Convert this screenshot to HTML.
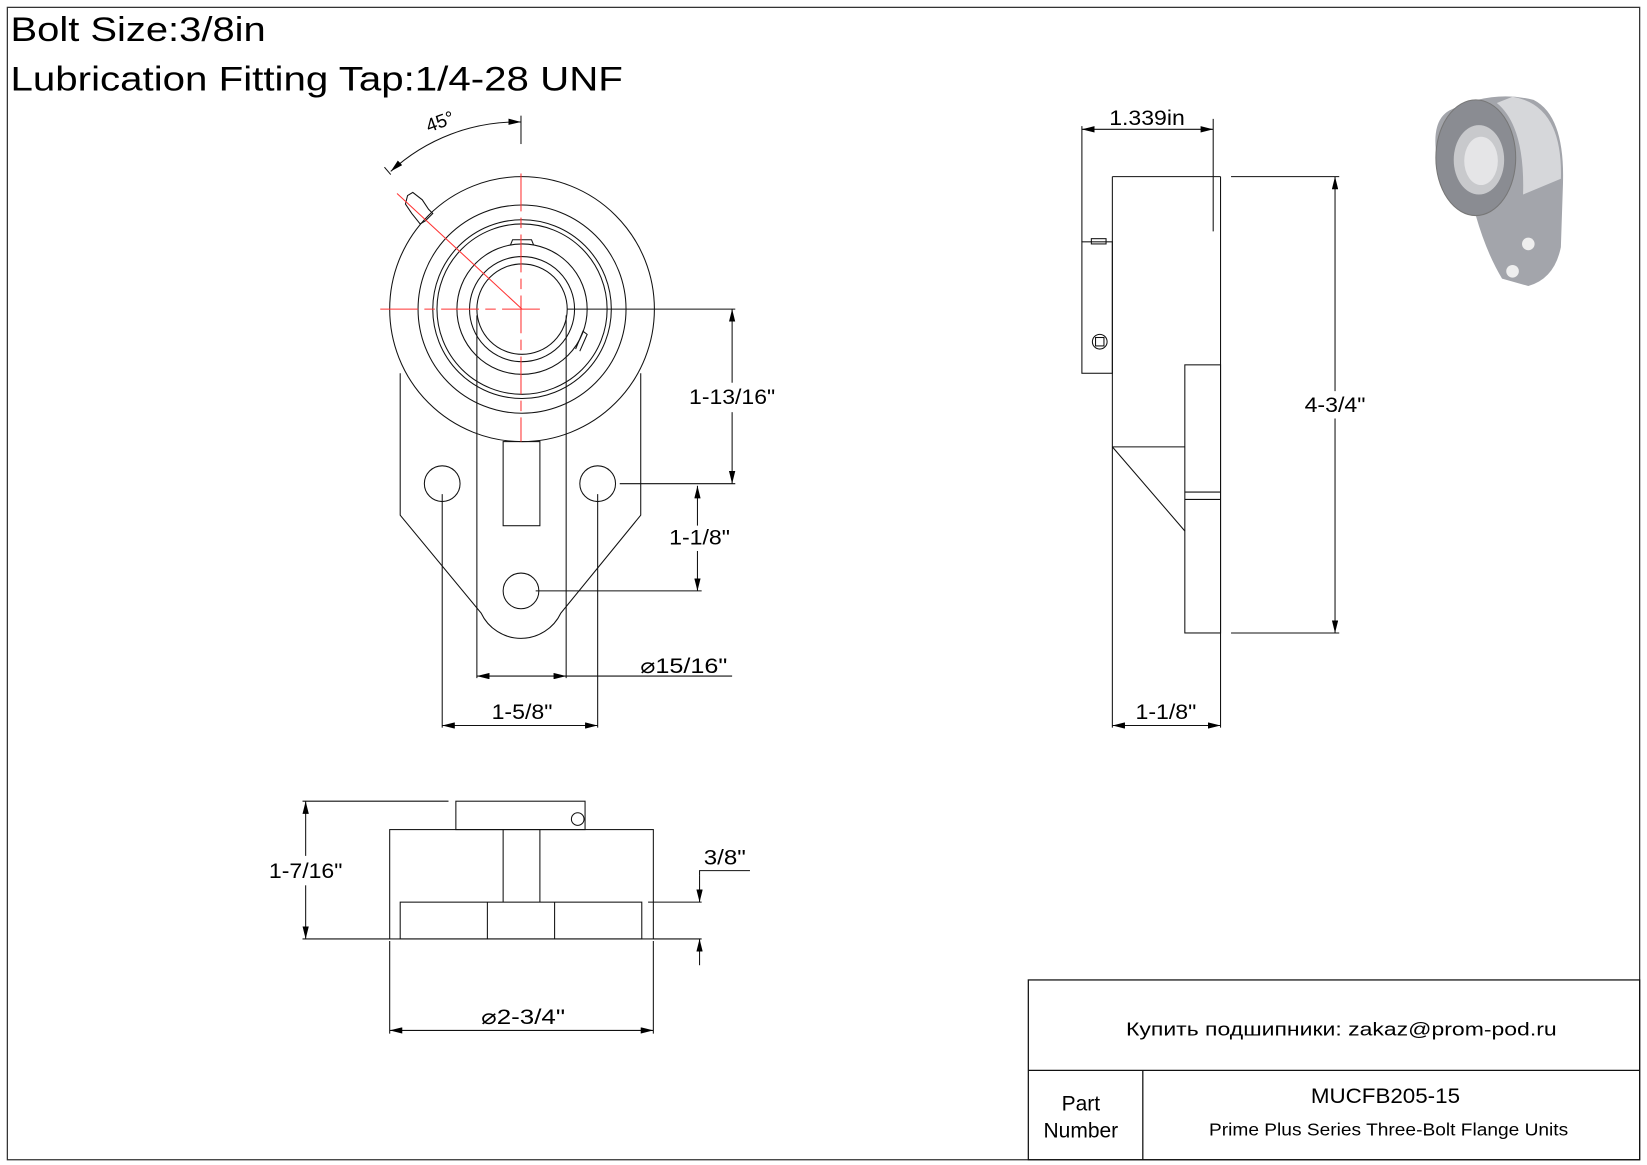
<!DOCTYPE html>
<html><head><meta charset="utf-8"><style>
html,body{margin:0;padding:0;background:#fff;}
svg{display:block;}
text{font-family:"Liberation Sans",sans-serif;fill:#000;}
</style></head><body>
<svg width="1647" height="1165" viewBox="0 0 1568 1108" preserveAspectRatio="none" xmlns="http://www.w3.org/2000/svg">
<defs>
<marker id="a" viewBox="0 0 12 6" refX="12" refY="3" markerWidth="12" markerHeight="6" orient="auto-start-reverse" markerUnits="userSpaceOnUse"><path d="M0,0 L12,3 L0,6z" fill="#000"/></marker>
</defs>
<rect x="7" y="7" width="1554" height="1096" fill="none" stroke="#333" stroke-width="1.2"/>
<text x="10" y="39" font-size="33" textLength="243" lengthAdjust="spacingAndGlyphs">Bolt Size:3/8in</text>
<text x="10" y="86" font-size="33" textLength="583" lengthAdjust="spacingAndGlyphs">Lubrication Fitting Tap:1/4-28 UNF</text>

<g fill="none" stroke="#111" stroke-width="1">
<path d="M381,355 L381,490 L458,583 A42,42 0 0 0 534,583 L610,490 L610,355"/>
<circle cx="497" cy="294" r="126" fill="#fff"/>
<circle cx="497" cy="294" r="99"/>
<circle cx="497" cy="294" r="85"/>
<circle cx="497" cy="294" r="81"/>
<circle cx="497" cy="294" r="62"/>
<circle cx="497" cy="294" r="50"/>
<circle cx="497" cy="294" r="43"/>
<path d="M486,233 L488,228 L506,228 L508,233"/>
<path d="M548,332 L555,315 L559,318 L552,334"/>
<circle cx="421" cy="460" r="17"/>
<circle cx="569" cy="460" r="17"/>
<circle cx="496" cy="562" r="17"/>
<rect x="479" y="420" width="35" height="80"/>
<path d="M454,300 V645 M539,300 V645 M421,470 V692 M569,470 V692"/>
<path d="M400,213 L392,203 L386,194 L388,186 L393,183 L402,190 L408,199 L412,203 L405,210z"/>
<path d="M540,294 H700 M590,460 H700"/>
<line x1="697" y1="294" x2="697" y2="365" marker-start="url(#a)"/>
<line x1="697" y1="392" x2="697" y2="460" marker-end="url(#a)"/>
<path d="M510,562 H668"/>
<line x1="664" y1="462" x2="664" y2="500" marker-start="url(#a)"/>
<line x1="664" y1="524" x2="664" y2="562" marker-end="url(#a)"/>
<line x1="454" y1="643" x2="539" y2="643" marker-start="url(#a)" marker-end="url(#a)"/>
<path d="M539,643 H697"/>
<line x1="421" y1="690" x2="569" y2="690" marker-start="url(#a)" marker-end="url(#a)"/>
<path d="M496,110 V137"/>
<path d="M496,116 A178,178 0 0 0 372,163" marker-start="url(#a)" marker-end="url(#a)"/>
<path d="M366,159 L372,166"/>
</g>
<g stroke="#f33" stroke-width="1" fill="none">
<path d="M362,294 H515" stroke-dasharray="36,6,10,6"/>
<path d="M496,165 V420" stroke-dasharray="36,6,10,6"/>
<path d="M378,184 L497,294"/>
</g>
<text x="405" y="122" font-size="18" transform="rotate(-20 418 115)">45°</text>
<rect x="654" y="364" width="86" height="26" fill="#fff"/>
<text x="697" y="384" font-size="20" text-anchor="middle" textLength="82" lengthAdjust="spacingAndGlyphs">1-13/16"</text>
<rect x="636" y="500" width="60" height="24" fill="#fff"/>
<text x="666" y="518" font-size="20" text-anchor="middle" textLength="58" lengthAdjust="spacingAndGlyphs">1-1/8"</text>
<text x="651" y="640" font-size="20" text-anchor="middle" textLength="83" lengthAdjust="spacingAndGlyphs">⌀15/16"</text>
<text x="497" y="684" font-size="20" text-anchor="middle" textLength="58" lengthAdjust="spacingAndGlyphs">1-5/8"</text>

<g fill="none" stroke="#111" stroke-width="1">
<path d="M1059,168 H1162 M1059,168 V692 M1162,168 V692"/>
<rect x="1030" y="230" width="29" height="125"/>
<rect x="1039" y="227" width="14" height="5"/>
<circle cx="1047" cy="325" r="7"/><rect x="1043" y="321" width="8" height="8"/>
<rect x="1128" y="347" width="34" height="255"/>
<path d="M1128,468 H1162 M1128,475 H1162"/>
<path d="M1059,425 H1128 M1059,425 L1128,505"/>
<path d="M1030,120 V230 M1155,113 V220"/>
<line x1="1030" y1="123" x2="1155" y2="123" marker-start="url(#a)" marker-end="url(#a)"/>
<path d="M1172,168 H1275 M1172,602 H1275"/>
<line x1="1271" y1="168" x2="1271" y2="372" marker-start="url(#a)"/>
<line x1="1271" y1="398" x2="1271" y2="602" marker-end="url(#a)"/>
<line x1="1059" y1="690" x2="1162" y2="690" marker-start="url(#a)" marker-end="url(#a)"/>
</g>
<text x="1092" y="119" font-size="20" text-anchor="middle" textLength="72" lengthAdjust="spacingAndGlyphs">1.339in</text>
<text x="1271" y="392" font-size="20" text-anchor="middle" textLength="58" lengthAdjust="spacingAndGlyphs">4-3/4"</text>
<text x="1110" y="684" font-size="20" text-anchor="middle" textLength="58" lengthAdjust="spacingAndGlyphs">1-1/8"</text>

<g>
<path d="M1380,105 Q1420,85 1460,95 Q1490,110 1488,175 L1486,235 Q1480,265 1455,272 L1430,265 Q1415,240 1405,205 L1368,150 Q1362,115 1380,105z" fill="#a3a5ab"/>
<ellipse cx="1405" cy="150" rx="38" ry="55" fill="#8a8c92" stroke="#777"/>
<ellipse cx="1408" cy="152" rx="24" ry="33" fill="#c8c9cc"/>
<ellipse cx="1410" cy="153" rx="16" ry="23" fill="#e5e5e7"/>
<path d="M1440,92 Q1488,100 1486,170 L1450,185 Q1452,120 1425,98z" fill="#d6d7da"/>
<circle cx="1455" cy="232" r="6" fill="#eee"/>
<circle cx="1440" cy="258" r="6" fill="#eee"/>
</g>

<g fill="none" stroke="#111" stroke-width="1">
<rect x="371" y="789" width="251" height="104"/>
<rect x="434" y="762" width="123" height="27"/>
<circle cx="550" cy="779" r="6"/>
<path d="M479,789 V858 M514,789 V858"/>
<rect x="381" y="858" width="230" height="35"/>
<path d="M464,858 V893 M528,858 V893"/>
<path d="M288,762 H427 M288,893 H371"/>
<line x1="291" y1="762" x2="291" y2="814" marker-start="url(#a)"/>
<line x1="291" y1="842" x2="291" y2="893" marker-end="url(#a)"/>
<path d="M617,858 H668 M622,893 H668"/>
<line x1="666" y1="833" x2="666" y2="858" marker-end="url(#a)"/>
<line x1="666" y1="918" x2="666" y2="893" marker-end="url(#a)"/>
<path d="M666,833 V828 H714"/>
<path d="M371,895 V983 M622,895 V983"/>
<line x1="371" y1="980" x2="622" y2="980" marker-start="url(#a)" marker-end="url(#a)"/>
</g>
<text x="291" y="835" font-size="20" text-anchor="middle" textLength="70" lengthAdjust="spacingAndGlyphs">1-7/16"</text>
<text x="690" y="822" font-size="20" text-anchor="middle" textLength="40" lengthAdjust="spacingAndGlyphs">3/8"</text>
<text x="498" y="974" font-size="20" text-anchor="middle" textLength="80" lengthAdjust="spacingAndGlyphs">⌀2-3/4"</text>

<g fill="none" stroke="#111" stroke-width="1.2">
<rect x="979" y="932" width="582" height="171"/>
<path d="M979,1018 H1561 M1088,1018 V1103"/>
</g>
<text x="1072" y="985" font-size="18" textLength="410" lengthAdjust="spacingAndGlyphs">Купить подшипники: zakaz@prom-pod.ru</text>
<text x="1029" y="1056" font-size="20" text-anchor="middle">Part</text>
<text x="1029" y="1082" font-size="20" text-anchor="middle">Number</text>
<text x="1248" y="1049" font-size="20" textLength="142" lengthAdjust="spacingAndGlyphs">MUCFB205-15</text>
<text x="1151" y="1080" font-size="17" textLength="342" lengthAdjust="spacingAndGlyphs">Prime Plus Series Three-Bolt Flange Units</text>
</svg>
</body></html>
